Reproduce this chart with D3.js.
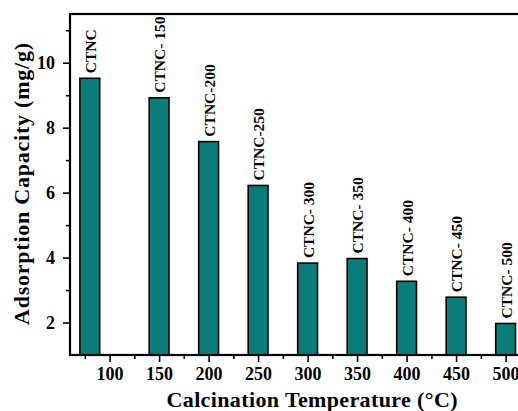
<!DOCTYPE html>
<html>
<head>
<meta charset="utf-8">
<script src="https://cdn.jsdelivr.net/npm/d3@7"></script>
<style>
  html, body { margin: 0; padding: 0; background: #fff; overflow: hidden; }
  svg { display: block; }
  text { font-family: "Liberation Serif", "Times New Roman", serif; font-weight: bold; fill: #000; }
</style>
</head>
<body>
<script>
// Calcination temperature of each sample (°C) and its adsorption capacity (mg/g)
const temperatures = [80, 150, 200, 250, 300, 350, 400, 450, 500];
const capacities = [9.52, 8.92, 7.57, 6.22, 3.83, 3.97, 3.27, 2.78, 1.97];
const sampleNames = ["CTNC", "CTNC- 150", "CTNC-200", "CTNC-250", "CTNC- 300",
                     "CTNC- 350", "CTNC- 400", "CTNC- 450", "CTNC- 500"];
const xTicks = [100, 150, 200, 250, 300, 350, 400, 450, 500];
const xMinorTicks = [75, 125, 175, 225, 275, 325, 375, 425, 475, 525];
const yTicks = [2, 4, 6, 8, 10];
const yMinorTicks = [3, 5, 7, 9, 11];

const W = 518, H = 411;
const plotLeft = 70, plotTop = 14, plotBottom = 355, plotRight = 565;
const barWidth = 20; // in temperature units

const svg = d3.select("body").append("svg").attr("width", W).attr("height", H);

const x = d3.scaleLinear().domain([60, 560]).range([plotLeft, plotRight]);
const y = d3.scaleLinear().domain([1, 11.5]).range([plotBottom, plotTop]);

const samples = temperatures.map((t, i) => ({ t, v: capacities[i], name: sampleNames[i] }));

// bars
svg.append("g").selectAll("rect")
  .data(samples)
  .join("rect")
  .attr("x", d => x(d.t - barWidth / 2))
  .attr("width", d => x(d.t + barWidth / 2) - x(d.t - barWidth / 2))
  .attr("y", d => y(d.v))
  .attr("height", d => y(1) - y(d.v))
  .attr("fill", "#0a7d7a")
  .attr("stroke", "#000")
  .attr("stroke-width", 1.6);

// sample labels standing above each bar
svg.append("g").selectAll("text")
  .data(samples)
  .join("text")
  .attr("transform", d => `translate(${x(d.t) + 6},${y(d.v) - 5}) rotate(-90)`)
  .attr("font-size", 15.5)
  .text(d => d.name);

// bottom axis
const xAxis = svg.append("g").attr("transform", `translate(0,${plotBottom})`)
  .call(d3.axisBottom(x).tickValues(xTicks).tickSize(7).tickPadding(5).tickFormat(d3.format("d")));
xAxis.select(".domain").remove();
xAxis.selectAll(".tick line").attr("stroke-width", 1.6);
xAxis.selectAll(".tick text").attr("font-size", 18).attr("font-family", null);
const xMinor = svg.append("g").attr("transform", `translate(0,${plotBottom})`)
  .call(d3.axisBottom(x).tickValues(xMinorTicks).tickSize(4).tickFormat(""));
xMinor.select(".domain").remove();
xMinor.selectAll(".tick line").attr("stroke-width", 1.6);

// left axis
const yAxis = svg.append("g").attr("transform", `translate(${plotLeft},0)`)
  .call(d3.axisLeft(y).tickValues(yTicks).tickSize(7).tickPadding(8).tickFormat(d3.format("d")));
yAxis.select(".domain").remove();
yAxis.selectAll(".tick line").attr("stroke-width", 1.6);
yAxis.selectAll(".tick text").attr("font-size", 18).attr("font-family", null);
const yMinor = svg.append("g").attr("transform", `translate(${plotLeft},0)`)
  .call(d3.axisLeft(y).tickValues(yMinorTicks).tickSize(4).tickFormat(""));
yMinor.select(".domain").remove();
yMinor.selectAll(".tick line").attr("stroke-width", 1.6);

// plot frame
svg.append("rect")
  .attr("x", plotLeft).attr("y", plotTop)
  .attr("width", plotRight - plotLeft).attr("height", plotBottom - plotTop)
  .attr("fill", "none").attr("stroke", "#000").attr("stroke-width", 2.2);

// axis titles
svg.append("text")
  .attr("x", 312).attr("y", 407)
  .attr("text-anchor", "middle")
  .attr("font-size", 22)
  .attr("textLength", 291).attr("lengthAdjust", "spacing")
  .text("Calcination Temperature (°C)");

svg.append("text")
  .attr("transform", "translate(29,184) rotate(-90)")
  .attr("text-anchor", "middle")
  .attr("font-size", 22)
  .attr("textLength", 282).attr("lengthAdjust", "spacing")
  .text("Adsorption Capacity (mg/g)");
</script>
</body>
</html>
